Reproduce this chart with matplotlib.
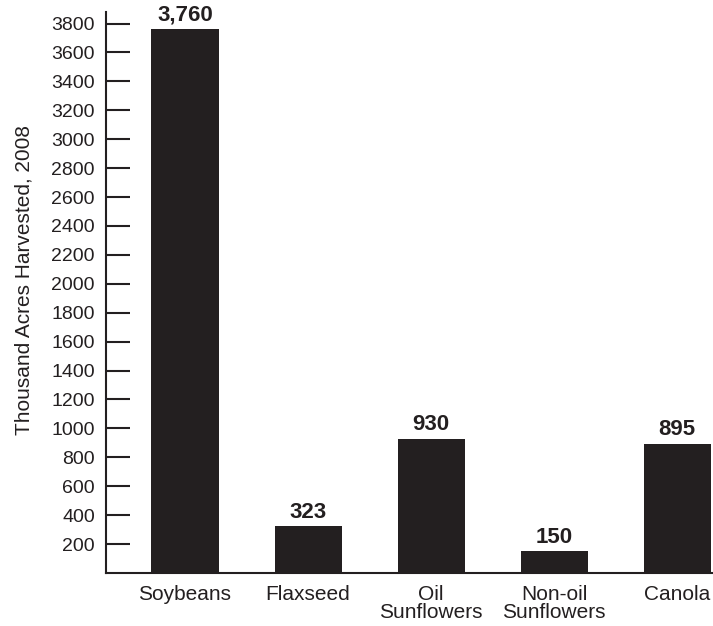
import matplotlib.pyplot as plt

crops = ['Soybeans', 'Flaxseed', 'Oil\nSunflowers', 'Non-oil\nSunflowers', 'Canola']
acres = [3760, 323, 930, 150, 895]
value_labels = ['3,760', '323', '930', '150', '895']
yticks = list(range(200, 3801, 200))

ink = '#231f20'
plt.rcParams['font.family'] = ['Liberation Sans', 'DejaVu Sans']
plt.rcParams['text.color'] = ink

fig = plt.figure(figsize=(7.13, 6.26), dpi=100)
ax = fig.add_axes([106 / 713, 53 / 626, 607 / 713, 561 / 626])

x = list(range(len(crops)))
bars = ax.bar(x, acres, width=0.545, color=ink)
for b, lab in zip(bars, value_labels):
    ax.text(b.get_x() + b.get_width() / 2, b.get_height() + 25, lab,
            ha='center', va='bottom', fontsize=16, fontweight='bold', color=ink)

ax.set_xlim(-0.642, 4.29)
ax.set_ylim(0, 3880)
ax.set_yticks(yticks)
ax.set_yticklabels([str(v) for v in yticks], fontsize=14, color=ink)
ax.set_xticks(x)
ax.set_xticklabels(crops, fontsize=15, color=ink, linespacing=0.9)
ax.tick_params(axis='y', direction='in', length=17, width=1.5, color=ink, pad=8)
ax.tick_params(axis='x', length=0, pad=9)

for side in ['top', 'right']:
    ax.spines[side].set_visible(False)
for side in ['left', 'bottom']:
    ax.spines[side].set_linewidth(1.5)
    ax.spines[side].set_color(ink)

fig.text(24 / 713, 1 - 280 / 626, 'Thousand Acres Harvested, 2008', rotation=90,
         ha='center', va='center', fontsize=15, color=ink)

fig.savefig('out.png', dpi=100)
